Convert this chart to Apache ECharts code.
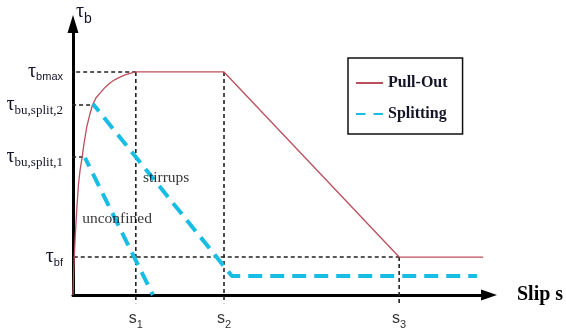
<!DOCTYPE html>
<html>
<head>
<meta charset="utf-8">
<script src="https://cdn.jsdelivr.net/npm/echarts@6/dist/echarts.min.js"></script>
<style>html,body{margin:0;padding:0;background:#fff}#c{width:566px;height:329px}</style>
</head>
<body>
<div id="c"></div>
<script>
// ---- data (slip in arbitrary units, bond stress in arbitrary units) ----
const sValues = [1.51, 3.63, 7.84];            // s1, s2, s3
const sLabelSubs = ['1', '2', '3'];
const tauValues = [8.23, 7.01, 5.09, 1.40];   // tau_bmax, tau_bu,split,2, tau_bu,split,1, tau_bf
const tauLabelSubs = ['bmax', 'bu,split,2', 'bu,split,1', 'bf'];
const tauSubSerif = [false, true, true, false];

// Pull-out: ascending curve, plateau, softening branch, residual
const pullOut = [[0,0],[0.007,0.37],[0.017,0.92],[0.03,1.40],[0.055,2.21],[0.09,3.14],[0.13,4.06],[0.17,4.61],[0.22,5.09],[0.26,5.54],[0.33,6.20],[0.40,6.64],[0.47,7.01],[0.55,7.27],[0.65,7.45],[0.77,7.66],[0.89,7.82],[1.01,7.95],[1.13,8.04],[1.25,8.12],[1.37,8.18],[1.51,8.23],[3.63,8.23],[7.84,1.40],[9.86,1.40]];
// Splitting: stirrups and unconfined
const splitStirrups = [[0.48,7.05],[3.82,0.70],[9.71,0.70]];
const splitUnconfined = [[0.29,5.06],[1.92,0]];
// guide (dashed) lines
const guides = [
  [[-0.26,8.23],[1.51,8.23]],
  [[1.51,8.23],[1.51,-0.30]],
  [[3.63,8.23],[3.63,-0.30]],
  [[-0.19,7.01],[0.48,7.01]],
  [[-0.19,5.09],[0.29,5.09]],
  [[-0.15,1.40],[7.84,1.40]],
  [[7.84,1.40],[7.84,-0.30]]
];
const annotations = [[1.68,4.32,'stirrups'],[0.22,2.80,'unconfined']];

const txt = '#15152a';
const red = '#BC4F5C';
const cyan = '#17BDE3';

function nearestIdx(arr, v){let b=0;for(let i=1;i<arr.length;i++){if(Math.abs(arr[i]-v)<Math.abs(arr[b]-v))b=i;}return b;}

const series = [];
guides.forEach((g,i)=>series.push({
  name:'guide'+i, type:'line', data:g, symbol:'none', clip:false, silent:true,
  lineStyle:{color:'#222', width:1.6, type:[4,3]}, z:1
}));
series.push({name:'Pull-Out', type:'line', data:pullOut, symbol:'none', clip:false,
  itemStyle:{color:red}, lineStyle:{color:red, width:1.3}, z:3});
series.push({name:'Splitting', type:'line', data:splitStirrups, symbol:'none', clip:false,
  itemStyle:{color:cyan}, lineStyle:{color:cyan, width:4, type:[14,8], dashOffset:4.5}, z:4});
series.push({name:'Splitting', type:'line', data:splitUnconfined, symbol:'none', clip:false,
  itemStyle:{color:cyan}, lineStyle:{color:cyan, width:4, type:[14,8], dashOffset:4.5}, z:4});
series.push({name:'notes', type:'scatter', symbolSize:0, silent:true,
  data:annotations.map(a=>({value:[a[0],a[1]], name:a[2]})),
  label:{show:true, position:'right', distance:0, formatter:p=>p.name,
    fontFamily:'Liberation Serif', fontSize:15.5, color:'#000'}, z:5});

const chart = echarts.init(document.getElementById('c'));
chart.setOption({
  animation:false,
  backgroundColor:'#fff',
  grid:{left:73, right:77, top:24, bottom:34, containLabel:false, outerBoundsMode:'none'},
  legend:{
    data:[{name:'Pull-Out'},{name:'Splitting'}], orient:'vertical', left:348, top:58,
    padding:[17,15,12,7], itemGap:15, itemWidth:27, itemHeight:14,
    borderColor:'#111', borderWidth:1.5, backgroundColor:'#fff',
    itemStyle:{opacity:0},
    textStyle:{fontFamily:'Liberation Serif', fontWeight:'bold', fontSize:16, color:txt}
  },
  xAxis:{
    type:'value', min:0, max:10,
    name:'Slip s', nameLocation:'end', nameGap:28,
    nameTextStyle:{fontFamily:'Liberation Serif', fontWeight:'bold', fontSize:20, color:'#000', padding:[0,0,6,0]},
    axisLine:{show:true, lineStyle:{color:'#000', width:3}, symbol:['none','triangle'], symbolSize:[11,16]},
    axisTick:{show:false}, splitLine:{show:false},
    axisLabel:{customValues:sValues, margin:12,
      formatter:v=>'{m|s}{s|'+sLabelSubs[nearestIdx(sValues,v)]+'}',
      rich:{m:{fontFamily:'Liberation Sans', fontSize:16, color:'#333'},
            s:{fontFamily:'Liberation Sans', fontSize:11, color:'#333', padding:[12,0,0,0]}}}
  },
  yAxis:{
    type:'value', min:0, max:10,
    name:'{m|τ}{s|b}', nameLocation:'end', nameGap:-2,
    nameTextStyle:{align:'left', padding:[0,0,0,3],
      rich:{m:{fontFamily:'Liberation Serif', fontSize:20, color:txt},
            s:{fontFamily:'Liberation Sans', fontSize:14, color:txt, padding:[14,0,0,0]}}},
    axisLine:{show:true, lineStyle:{color:'#000', width:3}, symbol:['none','triangle'], symbolSize:[11,18]},
    axisTick:{show:false}, splitLine:{show:false},
    axisLabel:{customValues:tauValues, margin:10,
      formatter:v=>{const i=nearestIdx(tauValues,v);return '{m|τ}{'+(tauSubSerif[i]?'r':'s')+'|'+tauLabelSubs[i]+'}';},
      rich:{m:{fontFamily:'Liberation Serif', fontSize:20, color:txt},
            s:{fontFamily:'Liberation Sans', fontSize:11, color:txt, padding:[11,0,0,0]},
            r:{fontFamily:'Liberation Serif', fontSize:13, color:txt, padding:[11,0,0,0]}}}
  },
  series:series
});
</script>
</body>
</html>
